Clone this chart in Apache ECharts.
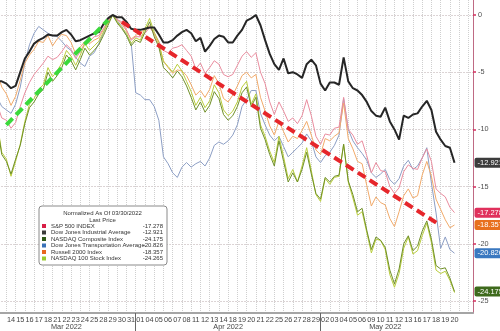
<!DOCTYPE html>
<html>
<head>
<meta charset="utf-8">
<script src="https://cdn.jsdelivr.net/npm/echarts@6/dist/echarts.min.js"></script>
<style>
  html, body { margin: 0; padding: 0; background: #ffffff; }
  #chart { width: 500px; height: 331px; }
</style>
</head>
<body>
<div id="chart"></div>
<script>
// Trading sessions shown on the time axis (two slots per session: close, then mid-session of the next day)
const tradingDays = [
  '2022-03-10','2022-03-11','2022-03-14','2022-03-15','2022-03-16','2022-03-17','2022-03-18',
  '2022-03-21','2022-03-22','2022-03-23','2022-03-24','2022-03-25','2022-03-28','2022-03-29',
  '2022-03-30','2022-03-31','2022-04-01','2022-04-04','2022-04-05','2022-04-06','2022-04-07',
  '2022-04-08','2022-04-11','2022-04-12','2022-04-13','2022-04-14','2022-04-18','2022-04-19',
  '2022-04-20','2022-04-21','2022-04-22','2022-04-25','2022-04-26','2022-04-27','2022-04-28',
  '2022-04-29','2022-05-02','2022-05-03','2022-05-04','2022-05-05','2022-05-06','2022-05-09',
  '2022-05-10','2022-05-11','2022-05-12','2022-05-13','2022-05-16','2022-05-17','2022-05-18',
  '2022-05-19','2022-05-20','2022-05-23','2022-05-24'
];
const firstLabeledDay = '2022-03-14';
const lastLabeledDay = '2022-05-20';
const monthNames = ['Mar 2022', 'Apr 2022', 'May 2022'];
const monthNameSlots = ['2022-03-22', '2022-04-14+', '2022-05-10+'];
const monthBreakSlots = ['2022-03-31+', '2022-04-29+'];
const yTickValues = [0, -5, -10, -15, -20, -25];

const legendTitle = ['Normalized As Of 03/30/2022', 'Last Price'];

// Performance in % since the normalisation point, one value per slot from 2022-03-10
const spx = [
  -8.0, -7.8, -9.0, -9.2, -9.9, -9.4, -8.0, -6.8, -5.9, -5.2,
  -4.7, -4.2, -3.6, -3.9, -3.7, -3.2, -2.6, -3.0, -3.8, -3.2,
  -2.4, -2.3, -1.9, -1.8, -1.2, -0.5, 0, -0.4, -0.6, -1.3,
  -2.2, -1.9, -1.9, -1.6, -1.1, -1.6, -2.3, -3.1, -3.3, -2.9,
  -2.8, -2.6, -3.1, -3.6, -4.7, -4.2, -5.1, -4.6, -4.0, -4.3,
  -5.2, -5.4, -5.2, -4.4, -3.6, -3.2, -3.7, -3.3, -5.0, -6.0,
  -7.6, -8.7, -7.6, -8.4, -9.3, -9.0, -9.5, -8.8, -7.4, -8.8,
  -10.6, -11.3, -10.4, -10.5, -9.9, -9.8, -7.2, -10.0, -10.5, -11.3,
  -11.0, -12.3, -13.8, -12.9, -13.6, -13.7, -15.0, -15.6, -15.1, -13.7,
  -13.1, -13.4, -13.5, -12.5, -11.7, -12.8, -15.2, -15.6, -15.9, -16.8,
  -17.278
];
const djia = [
  -5.9, -5.8, -5.8, -6.0, -6.4, -6.2, -5.0, -3.8, -3.2, -2.5,
  -2.2, -2.0, -1.7, -1.8, -1.8, -1.5, -1.3, -1.7, -2.3, -2.2,
  -2.0, -1.8, -1.6, -1.5, -0.8, -0.3, 0, -0.2, -0.2, -0.6,
  -1.2, -1.3, -1.3, -1.2, -1.1, -1.1, -1.7, -2.4, -2.4, -2.2,
  -1.8, -1.5, -1.3, -1.6, -2.3, -2.0, -3.2, -2.7, -2.1, -1.8,
  -1.9, -2.4, -2.4, -1.8, -1.3, -0.5, -0.3, 0, -0.9, -2.2,
  -3.4, -4.3, -4.8, -3.8, -5.1, -5.0, -5.2, -5.5, -4.3, -3.9,
  -4.4, -6.0, -6.6, -5.9, -5.9, -6.1, -3.7, -5.8, -6.4, -6.6,
  -7.0, -7.6, -8.4, -8.8, -8.9, -8.1, -9.3, -10.0, -10.9, -8.8,
  -9.0, -8.7, -8.6, -8.0, -7.5, -8.3, -10.2, -10.9, -11.45, -11.6,
  -12.921
];
const nasdaqComp = [
  -10.2, -9.6, -12.2, -12.8, -13.9, -12.6, -11.4, -9.5, -8.1, -7.6,
  -6.9, -6.5, -5.0, -5.8, -5.3, -4.6, -3.5, -4.0, -4.8, -3.9,
  -2.9, -3.5, -3.1, -2.6, -1.8, -0.9, 0, -0.7, -1.2, -1.8,
  -2.7, -2.2, -2.4, -1.5, -0.6, -1.9, -2.8, -4.6, -5.0, -5.5,
  -4.9, -5.4, -6.2, -7.2, -8.3, -7.6, -8.5, -7.9, -6.7, -7.3,
  -8.7, -9.2, -8.8, -8.0, -6.8, -6.3, -8.0, -7.2, -9.9, -10.9,
  -12.2, -13.2, -11.0, -12.8, -14.6, -13.8, -14.6, -13.5, -12.0, -13.9,
  -15.6, -16.1, -14.2, -14.6, -14.1, -14.0, -11.3, -14.5, -15.7, -17.2,
  -16.9, -18.8, -20.5, -19.4, -19.7, -20.3, -22.3, -23.5, -22.2, -20.0,
  -19.3, -20.6, -20.2, -18.9, -18.0, -19.6, -21.9, -22.2, -22.1, -23.0,
  -24.175
];
const djTransport = [
  -7.0, -7.2, -8.0, -8.3, -8.6, -7.8, -6.3, -4.2, -2.6, -1.6,
  -1.0, -1.3, -1.6, -1.8, -1.9, -2.3, -2.8, -3.1, -3.7, -4.2,
  -4.5, -3.6, -3.3, -2.5, -1.6, -0.5, 0, -0.5, -1.0, -1.8,
  -2.4, -6.8, -7.0, -7.4, -7.4, -8.0, -9.2, -12.4, -13.0, -13.8,
  -14.2, -13.3, -12.9, -13.3, -13.0, -12.8, -13.2, -12.5, -11.4, -11.1,
  -11.3, -11.0, -10.5, -9.6, -8.0, -7.4, -6.6, -6.6, -8.6, -9.6,
  -10.5, -11.0, -10.6, -11.5, -12.4, -12.0, -11.6, -11.2, -10.4, -11.0,
  -12.4, -12.9, -12.3, -12.0, -11.4, -10.5, -7.3, -10.0, -11.0, -11.6,
  -12.1, -12.7, -13.8, -14.2, -13.9, -13.5, -14.4, -14.8, -14.3, -13.2,
  -12.7, -13.5, -13.2, -12.5, -11.6, -14.7, -17.3, -20.4, -19.4, -20.5,
  -20.826
];
const russell2000 = [
  -5.2, -5.0, -6.3, -6.9, -7.9, -7.1, -5.7, -4.2, -3.5, -3.0,
  -2.3, -2.4, -1.8, -2.7, -2.1, -1.7, -1.8, -2.4, -3.4, -2.8,
  -2.3, -2.5, -2.2, -2.0, -1.3, -0.6, 0, -0.4, -0.8, -1.4,
  -2.1, -1.8, -1.5, -1.3, -0.9, -1.7, -2.6, -4.0, -4.6, -5.1,
  -4.8, -4.9, -5.3, -6.1, -7.0, -6.6, -7.2, -6.5, -5.3, -6.0,
  -7.3, -7.6, -7.0, -6.2, -5.3, -5.0, -5.5, -5.2, -7.2, -8.4,
  -9.7, -10.5, -9.3, -10.2, -11.1, -10.6, -10.8, -10.1, -9.3, -10.5,
  -11.8, -12.2, -10.8, -11.0, -10.6, -10.3, -7.7, -10.8, -11.7, -12.8,
  -13.0, -14.9, -16.7, -15.9, -16.4, -16.6, -17.8, -18.5, -17.2, -15.8,
  -15.2, -16.0, -15.8, -14.0, -12.8, -14.1, -16.1, -17.0, -17.9, -18.6,
  -18.357
];
const nasdaq100 = [
  -10.0, -9.4, -12.0, -12.6, -14.1, -12.8, -11.3, -9.3, -7.8, -7.3,
  -6.5, -6.1, -4.6, -5.4, -4.9, -4.2, -3.1, -3.6, -4.4, -3.5,
  -2.5, -3.1, -2.7, -2.3, -1.5, -0.7, 0, -0.6, -1.1, -1.6,
  -2.5, -2.0, -2.2, -1.2, -0.3, -1.5, -2.4, -4.1, -4.5, -5.0,
  -4.3, -4.9, -5.8, -6.7, -7.9, -7.2, -8.1, -7.5, -6.1, -6.8,
  -8.3, -8.8, -8.4, -7.6, -6.3, -5.8, -7.8, -6.9, -9.6, -10.6,
  -11.9, -12.9, -10.6, -12.4, -14.3, -13.5, -14.6, -13.2, -11.6, -13.6,
  -15.7, -16.3, -14.3, -14.8, -14.2, -14.1, -11.3, -14.6, -16.0, -17.5,
  -17.2, -19.0, -20.8, -19.6, -19.7, -20.5, -22.7, -23.8, -22.6, -20.4,
  -19.4, -20.9, -20.6, -19.3, -18.2, -19.9, -22.3, -22.6, -22.4, -23.2,
  -24.265
];

// Dashed trend arrows: [slot, value] start and end
const trendUp = [['2022-03-11+', -9.6], ['2022-03-28+', -0.45]];
const trendDown = [['2022-03-30', -0.6], ['2022-05-18+', -18.4]];

const indexSeries = [
  { name: 'S&P 500 INDEX', data: spx, line: '#e98c9e', key: '#d81e46', tag: '#e0305c', width: 1 },
  { name: 'Dow Jones Industrial Average', data: djia, line: '#262626', key: '#3b3b3b', tag: '#3c3c3c', width: 2 },
  { name: 'NASDAQ Composite Index', data: nasdaqComp, line: '#6f8f28', key: '#2f5a18', tag: '#3e6a1c', width: 1 },
  { name: 'Dow Jones Transportation Average', data: djTransport, line: '#8c9ec4', key: '#3a72b8', tag: '#3a78c0', width: 1 },
  { name: 'Russell 2000 Index', data: russell2000, line: '#f1aa6a', key: '#e8661e', tag: '#e8701e', width: 1 },
  { name: 'NASDAQ 100 Stock Index', data: nasdaq100, line: '#b9cd3c', key: '#9acb2e', tag: null, width: 1 }
];
// drawing order: thin lines first, the Dow Industrials on top
const drawOrder = [3, 4, 0, 5, 2, 1];

const slots = tradingDays.flatMap(d => [d, d + '+']).slice(0, -1);
const lastValue = {};
indexSeries.forEach(s => { lastValue[s.name] = s.data[s.data.length - 1].toFixed(3); });

const font = 'Liberation Sans';
const chart = echarts.init(document.getElementById('chart'), null, { renderer: 'canvas' });

const series = drawOrder.map(i => {
  const s = indexSeries[i];
  return {
    name: s.name,
    type: 'line',
    data: s.data,
    showSymbol: false,
    symbol: 'none',
    silent: true,
    animation: false,
    color: s.line,
    lineStyle: { color: s.line, width: s.width },
    endLabel: s.tag ? {
      show: true,
      distance: 20,
      formatter: p => Number(p.value).toFixed(3),
      color: '#ffffff',
      backgroundColor: s.tag,
      padding: [1, 3, 1, 3],
      borderRadius: 2,
      fontFamily: font,
      fontSize: 7.5
    } : { show: false }
  };
});

const arrowStyle = color => ({
  color: color,
  width: 4,
  type: [9, 5],
  opacity: 1
});
series.push({
  name: 'trend',
  type: 'line',
  data: [],
  silent: true,
  animation: false,
  z: 10,
  markLine: {
    silent: true,
    animation: false,
    symbol: ['none', 'arrow'],
    symbolSize: [0, 15],
    label: { show: false },
    emphasis: { disabled: true },
    data: [
      [
        { coord: trendUp[0], lineStyle: arrowStyle('#3bd93b'), itemStyle: { color: '#3bd93b' } },
        { coord: trendUp[1] }
      ],
      [
        { coord: trendDown[0], lineStyle: arrowStyle('#e6262b'), itemStyle: { color: '#e6262b' } },
        { coord: trendDown[1] }
      ]
    ]
  }
});

const inLabelRange = d => d >= firstLabeledDay && d <= lastLabeledDay;

chart.setOption({
  backgroundColor: '#ffffff',
  animation: false,
  textStyle: { fontFamily: font },
  grid: { left: -7.48, right: 27, top: 0, bottom: 18, containLabel: false, outerBoundsMode: 'none' },
  xAxis: [
    {
      type: 'category',
      data: slots,
      boundaryGap: false,
      position: 'bottom',
      axisLine: { show: true, onZero: false, lineStyle: { color: '#a5a5a5', width: 2 } },
      axisTick: { show: false },
      axisLabel: {
        interval: (idx, val) => idx % 2 === 0 && inLabelRange(val),
        formatter: val => val.slice(8, 10),
        color: '#454545',
        fontSize: 7.3,
        margin: 3
      },
      splitLine: {
        show: true,
        interval: idx => idx % 2 === 1,
        lineStyle: { color: '#cfcfcf', width: 1, type: [1, 1] }
      }
    },
    {
      type: 'category',
      data: slots,
      boundaryGap: false,
      position: 'bottom',
      offset: 0,
      axisLine: { show: false, onZero: false },
      axisTick: {
        show: true,
        interval: (idx) => monthBreakSlots.indexOf(slots[idx]) >= 0,
        length: 19,
        lineStyle: { color: '#666666', width: 1 }
      },
      axisLabel: {
        interval: (idx, val) => monthNameSlots.indexOf(val) >= 0,
        formatter: val => monthNames[monthNameSlots.indexOf(val)],
        color: '#454545',
        fontSize: 7.3,
        margin: 10
      },
      splitLine: { show: false }
    }
  ],
  yAxis: {
    type: 'value',
    position: 'right',
    min: -26.05,
    max: 1.31,
    axisLine: { show: true, onZero: false, lineStyle: { color: '#bf6a84', width: 1 } },
    axisTick: {
      show: true,
      length: 3,
      customValues: yTickValues,
      lineStyle: { color: '#d4305f', width: 1.5 }
    },
    axisLabel: {
      customValues: yTickValues,
      color: '#505050',
      fontSize: 7.3,
      margin: 5
    },
    splitLine: {
      show: true,
      lineStyle: { color: '#b9a9ab', width: 1, type: [1, 2] }
    }
  },
  legend: {
    orient: 'vertical',
    left: 39,
    top: 206,
    padding: [16.75, 4, 3.25, 3],
    itemWidth: 4,
    itemHeight: 4,
    itemGap: 0,
    icon: 'rect',
    selectedMode: false,
    backgroundColor: '#ffffff',
    borderColor: '#8a8a8a',
    borderWidth: 1,
    borderRadius: 3,
    data: indexSeries.map(s => ({ name: s.name, itemStyle: { color: s.key } })),
    formatter: name => '{n|' + name + '}{v|' + lastValue[name] + '}',
    textStyle: {
      color: '#333333',
      fontSize: 6,
      lineHeight: 6.5,
      rich: {
        n: { width: 92, fontSize: 6, lineHeight: 6.5, color: '#333333', fontFamily: font },
        v: { width: 20, align: 'right', fontSize: 6, lineHeight: 6.5, color: '#333333', fontFamily: font }
      }
    }
  },
  graphic: legendTitle.map((t, i) => ({
    type: 'text',
    z: 100,
    x: 102.5,
    y: 213 + i * 7,
    silent: true,
    style: {
      text: t,
      align: 'center',
      verticalAlign: 'middle',
      fontSize: 6,
      fontFamily: font,
      fill: '#333333'
    }
  })),
  series: series
});
</script>
</body>
</html>
